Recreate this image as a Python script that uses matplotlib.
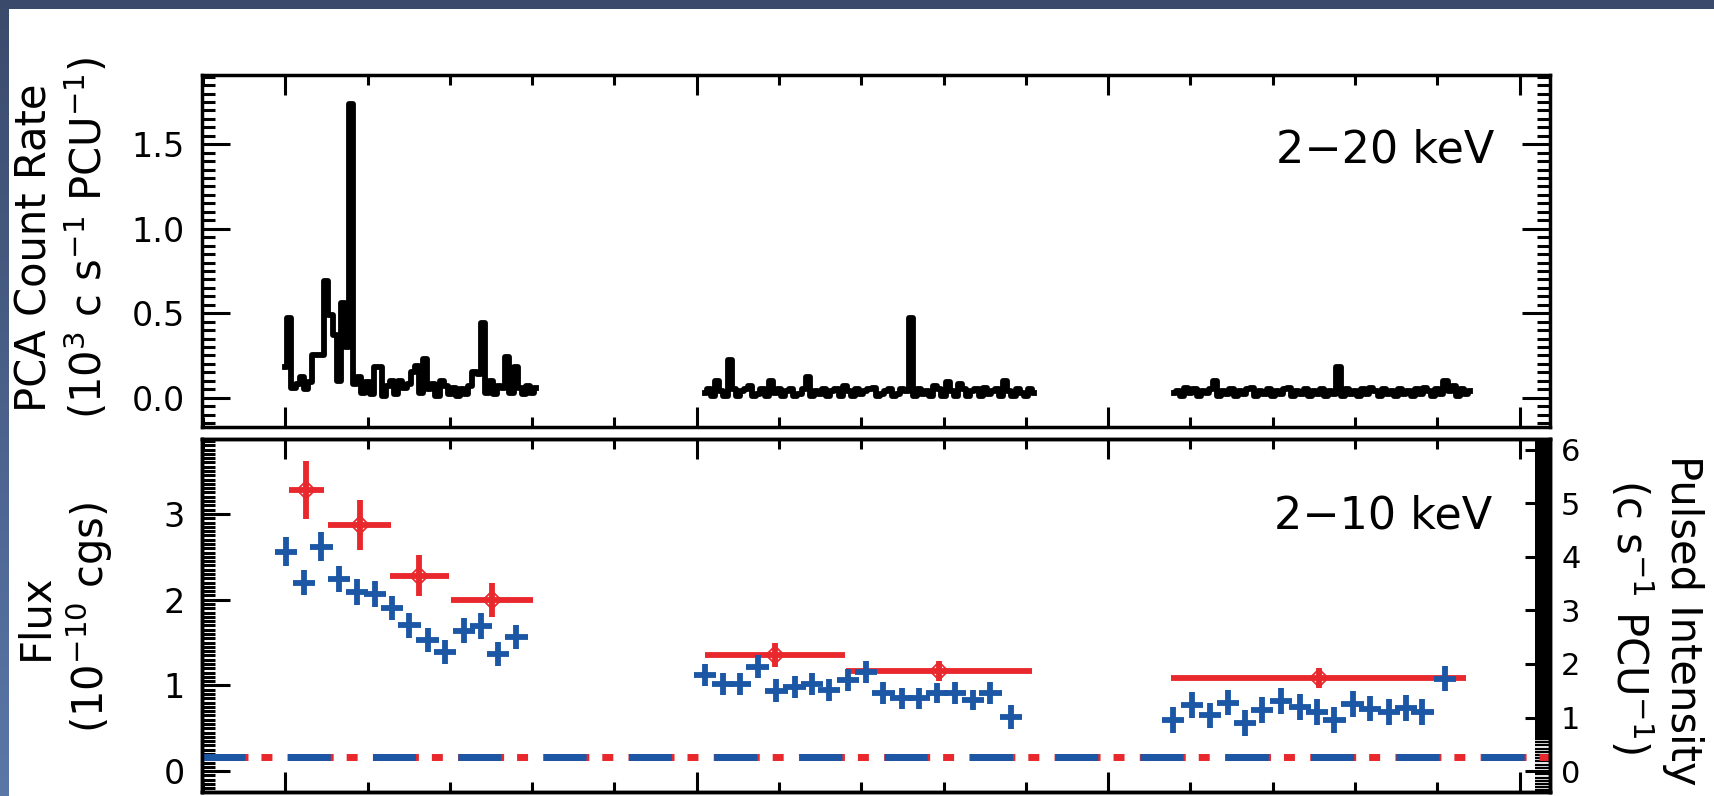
import numpy as np
import matplotlib
matplotlib.use("Agg")
import matplotlib.pyplot as plt
from matplotlib.ticker import MultipleLocator, FixedLocator, FormatStrFormatter
from matplotlib.colors import LinearSegmentedColormap

# ---- data (time in days, one minor tick = 20 d) ----
lc1_t0, lc2_t0, lc3_t0 = 0, 102, 216
lc1_rate = [0.18, 0.47, 0.06, 0.08, 0.12, 0.05, 0.09, 0.25, 0.25, 0.25,
            0.69, 0.49, 0.37, 0.10, 0.56, 0.30, 1.74, 0.08, 0.12, 0.03,
            0.09, 0.02, 0.18, 0.18, 0.01, 0.07, 0.10, 0.02, 0.10, 0.06,
            0.08, 0.15, 0.19, 0.03, 0.23, 0.05, 0.08, 0.01, 0.10, 0.07,
            0.02, 0.06, 0.01, 0.05, 0.02, 0.07, 0.15, 0.14, 0.44, 0.03,
            0.10, 0.02, 0.07, 0.06, 0.24, 0.03, 0.18, 0.06, 0.02, 0.07,
            0.03, 0.06]
lc2_rate = [0.03, 0.05, 0.01, 0.10, 0.04, 0.01, 0.22, 0.05, 0.01, 0.04,
            0.05, 0.07, 0.01, 0.02, 0.05, 0.01, 0.10, 0.03, 0.05, 0.01,
            0.04, 0.05, 0.01, 0.02, 0.05, 0.12, 0.01, 0.04, 0.02, 0.05,
            0.01, 0.04, 0.05, 0.01, 0.07, 0.04, 0.01, 0.05, 0.02, 0.04,
            0.05, 0.06, 0.01, 0.02, 0.04, 0.05, 0.01, 0.02, 0.05, 0.04,
            0.47, 0.01, 0.05, 0.02, 0.04, 0.01, 0.07, 0.05, 0.01, 0.09,
            0.04, 0.01, 0.08, 0.05, 0.01, 0.04, 0.05, 0.01, 0.06, 0.02,
            0.04, 0.05, 0.01, 0.10, 0.04, 0.01, 0.05, 0.03, 0.01, 0.05,
            0.03]
lc3_rate = [0.03, 0.04, 0.01, 0.06, 0.03, 0.05, 0.01, 0.04, 0.03, 0.05,
            0.10, 0.01, 0.04, 0.02, 0.05, 0.01, 0.04, 0.02, 0.05, 0.06,
            0.01, 0.04, 0.02, 0.05, 0.01, 0.04, 0.02, 0.05, 0.06, 0.01,
            0.04, 0.02, 0.05, 0.01, 0.04, 0.02, 0.05, 0.01, 0.04, 0.02,
            0.18, 0.01, 0.05, 0.02, 0.04, 0.01, 0.05, 0.02, 0.06, 0.04,
            0.01, 0.05, 0.02, 0.04, 0.01, 0.05, 0.02, 0.04, 0.01, 0.05,
            0.02, 0.06, 0.04, 0.01, 0.05, 0.02, 0.10, 0.04, 0.07, 0.01,
            0.05, 0.02, 0.04]

flux_t = [0.2, 4.6, 8.8, 13.0, 17.4, 21.8, 26.0, 30.2, 34.6, 38.8, 43.4, 47.6, 51.8, 56.2,
          102.0, 106.4, 110.6, 114.8, 119.4, 123.8, 128.0, 132.2, 136.8, 141.2, 145.4,
          149.8, 154.0, 158.4, 162.8, 167.2, 171.4, 176.4,
          215.8, 220.4, 224.8, 229.2, 233.2, 237.4, 242.0, 246.6, 250.8, 255.0, 259.4,
          263.6, 268.2, 272.4, 276.4, 281.8]
flux = [2.56, 2.20, 2.62, 2.24, 2.09, 2.07, 1.90, 1.70, 1.53, 1.39, 1.64, 1.69, 1.37, 1.57,
        1.12, 1.02, 1.02, 1.22, 0.94, 0.98, 1.02, 0.95, 1.06, 1.16, 0.91, 0.85, 0.85,
        0.91, 0.91, 0.83, 0.91, 0.63,
        0.60, 0.77, 0.65, 0.80, 0.56, 0.71, 0.82, 0.75, 0.69, 0.60, 0.78, 0.73, 0.69,
        0.74, 0.69, 1.08]
flux_err = [0.17, 0.15, 0.17, 0.15, 0.15, 0.15, 0.14, 0.15, 0.14, 0.14, 0.15, 0.15, 0.14, 0.14,
            0.13, 0.13, 0.13, 0.13, 0.13, 0.13, 0.13, 0.13, 0.13, 0.13, 0.13, 0.12, 0.12,
            0.12, 0.13, 0.12, 0.13, 0.14,
            0.15, 0.15, 0.15, 0.15, 0.15, 0.15, 0.15, 0.15, 0.15, 0.15, 0.15, 0.15, 0.15,
            0.15, 0.15, 0.15]
flux_terr = 2.7

pulse_t = [5.1, 18.1, 32.6, 50.2, 119.0, 158.8, 251.2]
pulse_terr = [4.3, 7.6, 7.2, 10.0, 17.0, 22.6, 35.9]
pulse = [5.25, 4.59, 3.65, 3.19, 2.17, 1.87, 1.74]
pulse_err = [0.54, 0.47, 0.39, 0.32, 0.22, 0.19, 0.19]

flux_bg = 0.16
pulse_bg = 0.26

RED = "#e8282c"
BLUE = "#1c57a6"

W, H = 1714, 796
fig = plt.figure(figsize=(W / 100, H / 100), dpi=100)
fig.patch.set_facecolor("white")

# slide border
bw = 9
top_band = fig.add_axes([0, 1 - bw / H, 1, bw / H])
top_band.set_axis_off()
top_band.add_patch(plt.Rectangle((0, 0), 1, 1, color="#394a6a", transform=top_band.transAxes))
left_band = fig.add_axes([0, 0, bw / W, 1 - bw / H])
cmap = LinearSegmentedColormap.from_list("band", ["#3b4b6c", "#5a77a8"])
left_band.imshow(np.linspace(0, 1, 200).reshape(-1, 1), aspect="auto", cmap=cmap)
left_band.set_axis_off()

x0, x1 = 201.7, 1550
ax1 = fig.add_axes([x0 / W, 1 - 426.7 / H, (x1 - x0) / W, (426.7 - 75) / H])
ax = fig.add_axes([x0 / W, 1 - 791.7 / H, (x1 - x0) / W, (791.7 - 439) / H])
ax2 = ax.twinx()
ax.set_zorder(ax2.get_zorder() + 1)
ax.patch.set_visible(False)

XLIM = (-20.3, 307.4)


def style_x(a):
    a.set_xlim(*XLIM)
    a.xaxis.set_major_locator(MultipleLocator(100))
    a.xaxis.set_minor_locator(MultipleLocator(20))
    a.tick_params(axis="x", which="both", direction="in", bottom=True, top=True,
                  labelbottom=False, width=2.2)
    a.tick_params(axis="x", which="major", length=14.4)
    a.tick_params(axis="x", which="minor", length=7.2)
    for s in a.spines.values():
        s.set_linewidth(2.5)


# top panel: light curve
for t0, rate in [(lc1_t0, lc1_rate), (lc2_t0, lc2_rate), (lc3_t0, lc3_rate)]:
    t = t0 + np.arange(len(rate))
    ax1.step(t, rate, where="mid", color="k", lw=4.2)
style_x(ax1)
ax1.set_ylim(-0.172, 1.91)
ax1.yaxis.set_major_locator(MultipleLocator(0.5))
ax1.yaxis.set_minor_locator(MultipleLocator(0.05))
ax1.yaxis.set_major_formatter(FormatStrFormatter("%.1f"))
ax1.tick_params(axis="y", which="both", direction="in", left=True, right=True, width=2.2,
                labelsize=24, pad=12)
ax1.tick_params(axis="y", which="major", length=20)
ax1.tick_params(axis="y", which="minor", length=9.4)
ax1.text(0.959, 0.787, "2\u221220 keV", transform=ax1.transAxes, ha="right", va="center",
         fontsize=32)

# bottom panel: flux and pulsed intensity
ax2.errorbar(pulse_t, pulse, xerr=pulse_terr, yerr=pulse_err, fmt="D", mfc="none",
             mec=RED, ms=9, mew=1.3, ecolor=RED, elinewidth=4.2, capsize=0)
ax2.axhline(pulse_bg, color=RED, lw=5, dashes=(6.62, 1.87, 1.58, 2.20))
ax.errorbar(flux_t, flux, xerr=flux_terr, yerr=flux_err, fmt="none", ecolor=BLUE,
            elinewidth=4.2, capsize=0)
ax.axhline(flux_bg, color=BLUE, lw=5, dashes=(6.19, 6.09))

style_x(ax)
ax.set_ylim(-0.24, 3.874)
ax.yaxis.set_major_locator(MultipleLocator(1))
ax.yaxis.set_minor_locator(MultipleLocator(0.05))
ax.tick_params(axis="y", which="both", direction="in", left=True, right=False, width=2.2,
               labelsize=24, pad=12)
ax.tick_params(axis="y", which="major", length=20)
ax.tick_params(axis="y", which="minor", length=9.4)
ax.text(0.957, 0.782, "2\u221210 keV", transform=ax.transAxes, ha="right", va="center",
        fontsize=32)

ax2.set_ylim(-0.384, 6.2)
ax2.yaxis.set_major_locator(MultipleLocator(1))
dense = list(np.arange(0.6, 6.2, 0.02)) + list(np.arange(-0.36, 0.6, 0.06))
ax2.yaxis.set_minor_locator(FixedLocator(dense))
ax2.tick_params(axis="y", which="both", direction="in", right=True, width=1.6,
                labelsize=22, pad=8)
ax2.tick_params(axis="y", which="major", length=18, width=2.2)
ax2.tick_params(axis="y", which="minor", length=10.8)
for s in ax2.spines.values():
    s.set_linewidth(2.5)

# axis titles
fig.text(35 / W, 1 - 248 / H, "PCA Count Rate", rotation=90, ha="center", va="center",
         fontsize=30)
fig.text(87 / W, 1 - 238 / H, r"(10$^{3}$ c s$^{-1}$ PCU$^{-1}$)", rotation=90,
         ha="center", va="center", fontsize=30)
fig.text(35 / W, 1 - 617 / H, "Flux", rotation=90, ha="center", va="center", fontsize=30)
fig.text(89 / W, 1 - 617 / H, r"(10$^{-10}$ cgs)", rotation=90, ha="center", va="center",
         fontsize=30)
fig.text(1683 / W, 1 - 620 / H, "Pulsed Intensity", rotation=270, ha="center", va="center",
         fontsize=30)
fig.text(1630 / W, 1 - 617 / H, r"(c s$^{-1}$ PCU$^{-1}$)", rotation=270, ha="center",
         va="center", fontsize=30)

fig.savefig("out.png", dpi=100)
